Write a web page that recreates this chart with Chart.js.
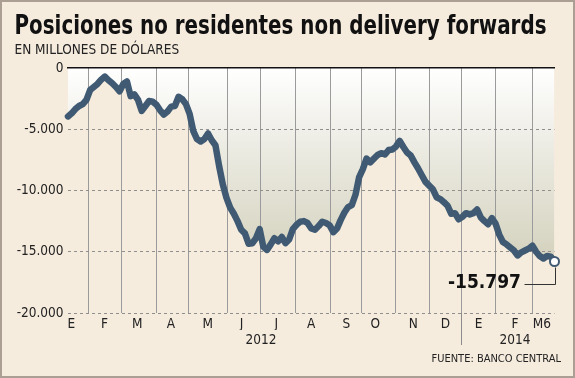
<!DOCTYPE html>
<html>
<head>
<meta charset="utf-8">
<script src="https://cdn.jsdelivr.net/npm/chart.js@4.4.1/dist/chart.umd.min.js"></script>
<style>
  body { margin: 0; background: #f6ecde; }
  #wrap { position: relative; width: 575px; height: 378px; }
  #marco { position: absolute; left: 0; top: 0; width: 575px; height: 378px; box-sizing: border-box; border: 2px solid #ab9e93; pointer-events: none; }
</style>
</head>
<body>
<div id="wrap">
  <canvas id="grafico" width="575" height="378"></canvas>
  <div id="marco"></div>
</div>
<script>
// posiciones no residentes NDF, millones de USD (una observacion por punto)
const valores = [
  -3950, -3700, -3350, -3100, -2950, -2600, -1800, -1550, -1300, -950,
  -700, -1000, -1250, -1550, -1900, -1300, -1100, -2300, -2150, -2600,
  -3500, -3100, -2700, -2750, -3000, -3450, -3800, -3550, -3150, -3100,
  -2350, -2550, -2950, -3750, -5150, -5800, -6000, -5800, -5350, -5900,
  -6300, -8000, -9500, -10600, -11400, -11900, -12500, -13200, -13500, -14350,
  -14300, -13900, -13150, -14600, -14850, -14400, -13900, -14150, -13800, -14300,
  -14000, -13150, -12800, -12550, -12500, -12650, -13100, -13200, -12900, -12550,
  -12650, -12850, -13400, -13100, -12400, -11800, -11350, -11200, -10350, -8900,
  -8250, -7400, -7700, -7400, -7100, -6950, -7050, -6700, -6650, -6400,
  -5950, -6450, -6900, -7150, -7700, -8200, -8750, -9300, -9600, -9900,
  -10550, -10700, -10950, -11250, -11900, -11850, -12350, -12150, -11850, -11950,
  -11850, -11550, -12200, -12500, -12750, -12250, -12700, -13600, -14200, -14400,
  -14650, -14900, -15300, -15050, -14900, -14750, -14500, -15000, -15350, -15550,
  -15350, -15400, -15797
];

// inicio de cada mes, en numero de observacion
const inicioMes = [5.68, 14.46, 23.93, 32.8, 43.17, 52.34, 61.62, 71.19, 79.56, 88.73, 98.0, 106.78, 116.05, 126.02];
const meses = ['E', 'F', 'M', 'A', 'M', 'J', 'J', 'A', 'S', 'O', 'N', 'D', 'E', 'F', 'M6'];
const mesesPos = [0.9, 9.9, 18.8, 27.9, 37.9, 47.1, 56.5, 66.0, 75.5, 83.4, 93.7, 102.4, 111.4, 121.3, 128.6];
const anios = ['2012', '2014'];
const aniosPos = [52.34, 121.3];
const corteAnio = 106.78;
const ticksY = [0, -5000, -10000, -15000, -20000];

const ultimo = valores.length - 1;
const fuente = '"DejaVu Sans Condensed", "DejaVu Sans", sans-serif';
const colorLinea = '#3f5a72';

function fmt(v) {
  const s = String(Math.abs(Math.round(v))).replace(/\B(?=(\d{3})+(?!\d))/g, '.');
  return (v < 0 ? '-' : '') + s;
}

const textos = {
  id: 'textos',
  afterDraw(chart) {
    const ctx = chart.ctx;
    ctx.save();
    ctx.fillStyle = '#111';
    ctx.textAlign = 'left';
    ctx.textBaseline = 'alphabetic';
    ctx.font = 'bold 26px ' + fuente;
    ctx.fillText('Posiciones no residentes non delivery forwards', 14.5, 34, 532);
    ctx.fillStyle = '#222';
    ctx.font = '13.5px ' + fuente;
    ctx.fillText('EN MILLONES DE DÓLARES', 14.5, 53.5);
    ctx.textAlign = 'right';
    ctx.font = '11px ' + fuente;
    ctx.fillText('FUENTE: BANCO CENTRAL', 561, 361.5);

    // etiqueta del ultimo dato
    const pt = chart.getDatasetMeta(0).data[ultimo];
    const ty = pt.y + 22;
    ctx.strokeStyle = '#333';
    ctx.lineWidth = 1;
    ctx.beginPath();
    ctx.moveTo(pt.x - 30, Math.round(ty) + 0.5);
    ctx.lineTo(Math.round(pt.x) + 0.5, Math.round(ty) + 0.5);
    ctx.lineTo(Math.round(pt.x) + 0.5, pt.y + 6);
    ctx.stroke();
    ctx.fillStyle = '#111';
    ctx.textBaseline = 'middle';
    ctx.font = 'bold 19px ' + fuente;
    ctx.fillText(fmt(valores[ultimo]), pt.x - 33.5, ty);
    ctx.restore();
  }
};

const ctx = document.getElementById('grafico').getContext('2d');
new Chart(ctx, {
  type: 'line',
  data: {
    datasets: [{
      data: valores.map((v, i) => ({ x: i, y: v })),
      borderColor: colorLinea,
      borderWidth: 6.5,
      borderJoinStyle: 'round',
      borderCapStyle: 'round',
      tension: 0,
      fill: { value: 0 },
      backgroundColor: (c) => {
        const area = c.chart.chartArea;
        if (!area) return 'rgba(220,218,200,0.6)';
        const yS = c.chart.scales.y;
        const g = c.chart.ctx.createLinearGradient(0, area.top, 0, yS.getPixelForValue(-16000));
        g.addColorStop(0, '#ffffff');
        g.addColorStop(0.3, '#f1f0ea');
        g.addColorStop(1, '#d3d1bc');
        return g;
      },
      pointRadius: (c) => (c.dataIndex === ultimo ? 4.5 : 0),
      pointBackgroundColor: '#ffffff',
      pointBorderColor: colorLinea,
      pointBorderWidth: 2,
      clip: false
    }]
  },
  options: {
    responsive: false,
    animation: false,
    layout: { padding: { left: 0, right: 20.5, top: 68, bottom: 28 } },
    plugins: {
      legend: { display: false },
      tooltip: { enabled: false },
      filler: { drawTime: 'beforeDraw' }
    },
    scales: {
      x: {
        type: 'linear', position: 'bottom', min: 0, max: ultimo, weight: 0,
        afterBuildTicks: (s) => { s.ticks = inicioMes.map(v => ({ value: v })); },
        afterFit: (s) => { s.height = 0; },
        ticks: { display: false },
        grid: {
          color: '#9b9b9b', lineWidth: 1, drawTicks: true, tickLength: 32,
          tickColor: (c) => (c.tick && c.tick.value === corteAnio ? '#8c8c8c' : 'rgba(0,0,0,0)')
        },
        border: { display: false }
      },
      mes: {
        type: 'linear', position: 'bottom', min: 0, max: ultimo, weight: 1,
        afterBuildTicks: (s) => { s.ticks = mesesPos.map(v => ({ value: v })); },
        afterFit: (s) => { s.height = 17; },
        ticks: {
          autoSkip: false, maxRotation: 0, padding: 3.5, color: '#222',
          font: { family: fuente, size: 13.5 },
          callback: (v, i) => meses[i]
        },
        grid: { display: false, drawTicks: false },
        border: { display: false }
      },
      anio: {
        type: 'linear', position: 'bottom', min: 0, max: ultimo, weight: 2,
        afterBuildTicks: (s) => { s.ticks = aniosPos.map(v => ({ value: v })); },
        afterFit: (s) => { s.height = 20; },
        ticks: {
          autoSkip: false, maxRotation: 0, padding: 2, color: '#222',
          font: { family: fuente, size: 13.5 },
          callback: (v, i) => anios[i]
        },
        grid: { display: false, drawTicks: false },
        border: { display: false }
      },
      cero: {
        type: 'linear', position: 'top', min: 0, max: ultimo,
        afterFit: (s) => { s.height = 0; },
        ticks: { display: false },
        grid: { display: false, drawTicks: false },
        border: { display: true, color: '#111', width: 1.5 }
      },
      y: {
        min: -20000, max: 0,
        afterBuildTicks: (s) => { s.ticks = ticksY.map(v => ({ value: v })); },
        afterFit: (s) => { s.width = 68; },
        ticks: {
          padding: 4.5, color: '#222',
          font: { family: fuente, size: 13.5 },
          callback: (v) => fmt(v)
        },
        grid: {
          color: (c) => (c.tick && c.tick.value === 0 ? 'rgba(0,0,0,0)' : '#8f8f8f'),
          lineWidth: 1, drawTicks: false
        },
        border: { display: false, dash: [3, 3] }
      }
    }
  },
  plugins: [textos]
});
</script>
</body>
</html>
